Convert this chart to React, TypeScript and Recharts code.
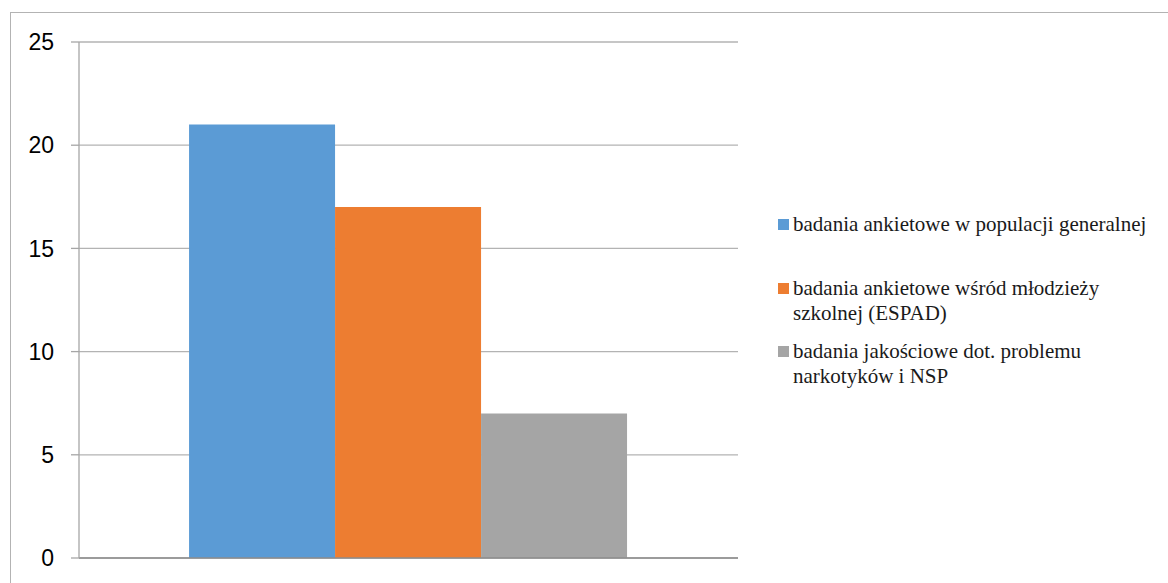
import React from 'react';
import { BarChart, Bar, XAxis, YAxis, CartesianGrid, Legend, ReferenceLine } from 'recharts';

const categories = [''];
const seriesNames = [
  'badania ankietowe w populacji generalnej',
  'badania ankietowe wśród młodzieży szkolnej (ESPAD)',
  'badania jakościowe dot. problemu narkotyków i NSP',
];
const seriesValues = [[21], [17], [7]];
const seriesColors = ['#5B9BD5', '#ED7D31', '#A5A5A5'];
const yTicks = [0, 5, 10, 15, 20, 25];

const data = categories.map((c, i) => ({
  name: c,
  s0: seriesValues[0][i],
  s1: seriesValues[1][i],
  s2: seriesValues[2][i],
}));

const LegendBox = (props: any) => {
  const items = props.payload || [];
  return (
    <div style={{ fontFamily: '"Liberation Serif", "Times New Roman", serif', fontSize: 21, color: '#1a1a1a' }}>
      {items.map((it: any) => (
        <div key={it.value} style={{ display: 'flex', alignItems: 'flex-start', height: 63.5 }}>
          <div style={{ width: 11, height: 11, background: it.color, marginTop: 7, marginRight: 4, flexShrink: 0 }} />
          <div style={{ maxWidth: 370, lineHeight: '25px' }}>{it.value}</div>
        </div>
      ))}
    </div>
  );
};

export default function App() {
  return (
    <div style={{ position: 'absolute', left: 0, top: 0, width: 1168, height: 583, overflow: 'hidden', background: '#fff' }}>
      <div style={{ position: 'absolute', left: 10, top: 12, width: 1200, height: 700, border: '1px solid #b3b3b3' }} />
      <BarChart
        width={1168}
        height={583}
        data={data}
        margin={{ top: 42, right: 430, bottom: 25, left: 10 }}
        barCategoryGap="16.7%"
        barGap={0}
        style={{ position: 'absolute', left: 0, top: 0 }}
      >
        <CartesianGrid vertical={false} stroke="#b3b3b3" strokeWidth={1.3} />
        <XAxis dataKey="name" hide />
        <YAxis
          width={69}
          domain={[0, 25]}
          ticks={yTicks}
          interval={0}
          axisLine={{ stroke: '#a6a6a6', strokeWidth: 1.3 }}
          tickLine={{ stroke: '#a6a6a6', strokeWidth: 1.3 }}
          tickSize={8}
          tickMargin={17}
          tick={{ fill: '#000', fontSize: 23, fontFamily: '"Liberation Sans", Arial, sans-serif' }}
        />
        <ReferenceLine y={0} stroke="#8c8c8c" strokeWidth={1.3} />
        {seriesNames.map((n, i) => (
          <Bar key={n} dataKey={`s${i}`} name={n} fill={seriesColors[i]} isAnimationActive={false} />
        ))}
        <Legend
          layout="horizontal"
          verticalAlign="middle"
          align="center"
          content={<LegendBox />}
          wrapperStyle={{ left: 778, top: 212, width: 390 }}
        />
      </BarChart>
    </div>
  );
}
